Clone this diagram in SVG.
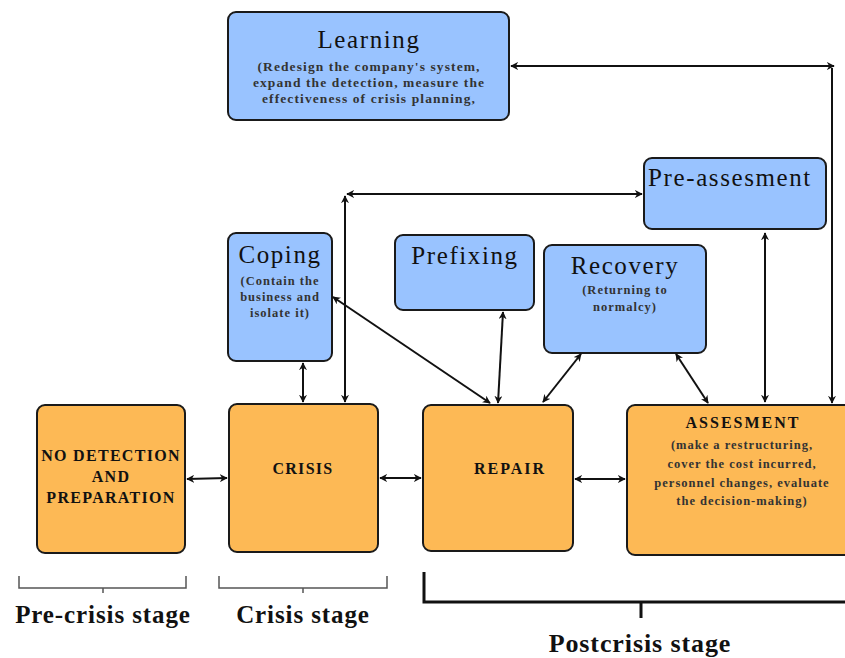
<svg xmlns="http://www.w3.org/2000/svg" width="845" height="658" viewBox="0 0 845 658">
<style>
.blue{fill:#99c3ff;stroke:#1a1a1a;stroke-width:2}
.orange{fill:#fdb955;stroke:#1a1a1a;stroke-width:2}
text{font-family:'Liberation Serif','DejaVu Serif','Times New Roman',serif}
.title{font-size:25px;letter-spacing:1.6px;fill:#111}
.sub{font-size:12.5px;font-weight:bold;letter-spacing:1px;fill:#333}
.bold{font-size:16px;font-weight:bold;letter-spacing:1.3px;fill:#111}
.stage{font-size:25px;font-weight:bold;letter-spacing:0.9px;fill:#111}
.c{fill:none;stroke:#111;stroke-width:2;marker-start:url(#ah);marker-end:url(#ah)}
.br{fill:none;stroke:#555;stroke-width:1.5}
.brk{fill:none;stroke:#111;stroke-width:3}
</style>
<defs>
<marker id="ah" viewBox="0 0 10 10" refX="9" refY="5" markerWidth="8" markerHeight="8" orient="auto-start-reverse" markerUnits="userSpaceOnUse">
<path d="M0,0 L10,5 L0,10 L3,5 z" fill="#111"/>
</marker>
</defs>

<g id="learning">
<rect class="blue" x="228" y="12" width="281" height="108" rx="8"/>
<text class="title" x="369" y="48" text-anchor="middle">Learning</text>
<text class="sub" x="369" y="71" text-anchor="middle" style="font-size:13.5px;letter-spacing:1.1px">(Redesign the company's system,</text>
<text class="sub" x="369" y="87" text-anchor="middle" style="font-size:13.5px;letter-spacing:1.1px">expand the detection, measure the</text>
<text class="sub" x="369" y="103" text-anchor="middle" style="font-size:13.5px;letter-spacing:1.1px">effectiveness of crisis planning,</text>
</g>

<g id="pre-assesment">
<rect class="blue" x="644" y="158" width="182" height="71" rx="8"/>
<text class="title" x="730" y="186" text-anchor="middle">Pre-assesment</text>
</g>

<g id="coping">
<rect class="blue" x="228" y="233" width="104" height="128" rx="8"/>
<text class="title" x="280" y="263" text-anchor="middle">Coping</text>
<text class="sub" x="280" y="285" text-anchor="middle">(Contain the</text>
<text class="sub" x="280" y="301" text-anchor="middle">business and</text>
<text class="sub" x="280" y="317" text-anchor="middle">isolate it)</text>
</g>

<g id="prefixing">
<rect class="blue" x="395" y="235" width="139" height="75" rx="8"/>
<text class="title" x="465" y="264" text-anchor="middle">Prefixing</text>
</g>

<g id="recovery">
<rect class="blue" x="544" y="245" width="162" height="108" rx="8"/>
<text class="title" x="625" y="274" text-anchor="middle">Recovery</text>
<text class="sub" x="625" y="294" text-anchor="middle">(Returning to</text>
<text class="sub" x="625" y="311" text-anchor="middle">normalcy)</text>
</g>

<g id="no-detection">
<rect class="orange" x="37" y="405" width="148" height="148" rx="8"/>
<text class="bold" x="111" y="461" text-anchor="middle">NO DETECTION</text>
<text class="bold" x="111" y="482" text-anchor="middle">AND</text>
<text class="bold" x="111" y="503" text-anchor="middle">PREPARATION</text>
</g>

<g id="crisis">
<rect class="orange" x="229" y="404" width="149" height="148" rx="8"/>
<text class="bold" x="303" y="474" text-anchor="middle">CRISIS</text>
</g>

<g id="repair">
<rect class="orange" x="423" y="405" width="150" height="146" rx="8"/>
<text class="bold" x="510" y="474" text-anchor="middle" style="letter-spacing:2px">REPAIR</text>
</g>

<g id="assesment">
<rect class="orange" x="627" y="405" width="230" height="150" rx="8"/>
<text class="bold" x="743" y="428" text-anchor="middle" style="letter-spacing:2px">ASSESMENT</text>
<text class="sub" x="742" y="449" text-anchor="middle">(make a restructuring,</text>
<text class="sub" x="742" y="468" text-anchor="middle">cover the cost incurred,</text>
<text class="sub" x="742" y="487" text-anchor="middle">personnel changes, evaluate</text>
<text class="sub" x="742" y="505" text-anchor="middle">the decision-making)</text>
</g>

<g id="connectors">
<line class="c" x1="187" y1="479" x2="227" y2="478"/>
<line class="c" x1="380" y1="478" x2="421" y2="478"/>
<line class="c" x1="575" y1="479" x2="625" y2="479"/>
<line class="c" x1="303" y1="363" x2="303" y2="402"/>
<line class="c" x1="345" y1="402" x2="345" y2="196"/>
<line class="c" x1="347" y1="194" x2="642" y2="194"/>
<line class="c" x1="333" y1="297" x2="490" y2="403"/>
<line class="c" x1="503" y1="312" x2="498" y2="403"/>
<line class="c" x1="581" y1="354" x2="543" y2="402"/>
<line class="c" x1="676" y1="354" x2="708" y2="403"/>
<line class="c" x1="765" y1="233" x2="765" y2="402"/>
<line class="c" x1="511" y1="66" x2="834" y2="66"/>
<line class="c" x1="832" y1="68" x2="832" y2="403" style="marker-start:none"/>
</g>

<g id="stages">
<path class="br" d="M19,576 V588 H186 V576 M103,588 V593"/>
<path class="br" d="M219,576 V588 H387 V576 M303,588 V593"/>
<path class="brk" d="M424,572 V602 H845 M641,602 V618"/>
<text class="stage" x="103" y="623" text-anchor="middle">Pre-crisis stage</text>
<text class="stage" x="303" y="623" text-anchor="middle">Crisis stage</text>
<text class="stage" x="640" y="652" text-anchor="middle" style="font-size:26px">Postcrisis stage</text>
</g>
</svg>
